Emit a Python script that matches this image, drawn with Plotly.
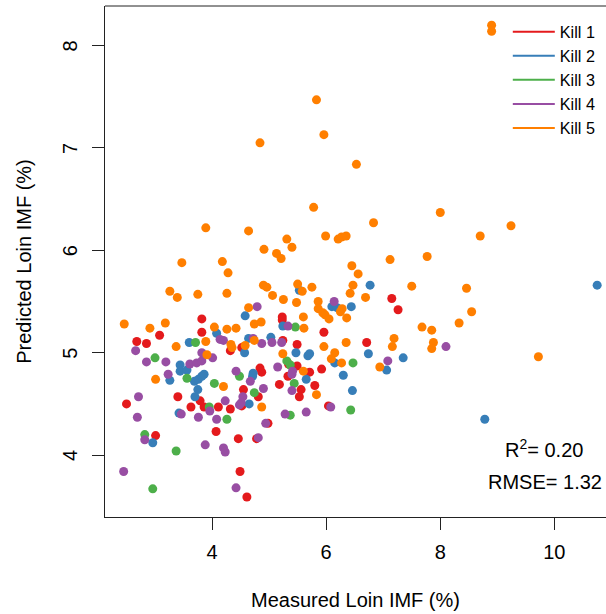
import plotly.graph_objects as go

kills = ["Kill 1", "Kill 2", "Kill 3", "Kill 4", "Kill 5"]
colors = ["#E41A1C", "#377EB8", "#4DAF4A", "#984EA3", "#FF7F00"]

# Kill 1 (red)
k1_x = [7.15, 7.26, 3.82, 5.23, 5.23, 3.82, 5.96, 6.71, 5.92, 5.71, 5.80, 6.04, 5.49, 5.49, 5.56,
        5.53, 3.08, 2.68, 2.85, 4.32, 4.52, 5.34, 4.84, 4.87, 5.18, 5.33, 4.81, 4.55, 4.52, 4.32,
        4.11, 3.86, 3.79, 3.63, 3.40, 4.98, 2.50, 3.01, 4.07, 4.46, 4.78, 4.49, 4.61, 5.24]
k1_y = [5.53, 5.42, 5.33, 5.35, 5.32, 5.20, 5.20, 5.10, 4.84, 4.81, 4.68, 4.48, 5.08, 4.87, 4.64,
        4.57, 5.17, 5.11, 5.09, 5.02, 5.05, 4.89, 4.85, 4.81, 4.69, 4.77, 4.57, 4.64, 4.48, 4.45,
        4.47, 4.47, 4.53, 4.47, 4.57, 4.31, 4.50, 4.19, 4.23, 4.16, 4.16, 3.84, 3.59, 5.12]

# Kill 2 (blue)
k2_x = [6.77, 10.75, 6.10, 6.19, 6.44, 5.53, 4.58, 5.24, 6.74, 5.68, 5.71, 6.15, 7.35, 7.06, 5.65,
        6.30, 6.46, 8.78, 5.47, 3.60, 4.08, 4.57, 4.64, 5.03, 3.44, 3.44, 3.56, 3.26, 3.69, 3.76,
        3.82, 3.86, 3.75, 3.70, 4.72, 4.71, 4.65, 3.42, 2.96]
k2_y = [5.66, 5.66, 5.45, 5.44, 5.45, 5.61, 5.36, 5.26, 4.99, 4.97, 4.99, 4.90, 4.95, 4.83, 4.74,
        4.78, 4.63, 4.35, 5.00, 5.10, 5.19, 5.00, 5.14, 5.15, 4.88, 4.82, 4.83, 4.73, 4.72, 4.74,
        4.77, 4.79, 4.64, 4.57, 4.80, 4.77, 4.50, 4.41, 4.12]

# Kill 3 (green)
k3_x = [5.46, 6.47, 6.43, 5.37, 5.44, 5.37, 3.71, 5.31, 3.00, 3.56, 4.04, 4.48, 4.74, 3.95, 4.26,
        2.82, 3.37, 2.96]
k3_y = [5.25, 4.90, 4.44, 4.88, 4.70, 4.39, 5.10, 4.92, 4.95, 4.75, 4.70, 4.77, 4.61, 4.47, 4.35,
        4.20, 4.04, 3.67]

# Kill 4 (purple)
k4_x = [4.79, 5.33, 6.14, 8.10, 7.08, 6.08, 5.65, 5.41, 5.40, 5.40, 2.66, 4.14, 4.20, 4.72, 4.87,
        5.05, 5.22, 2.85, 3.19, 3.61, 3.73, 3.82, 3.82, 4.01, 3.23, 4.42, 4.67, 5.15, 4.90, 4.54,
        4.51, 4.48, 4.23, 3.96, 3.46, 3.76, 4.08, 4.94, 2.71, 2.69, 2.82, 3.88, 4.20, 4.23, 4.81,
        2.45, 4.42, 5.28]
k4_y = [5.45, 5.26, 5.50, 5.06, 4.92, 4.47, 4.42, 4.82, 4.79, 4.63, 5.02, 5.13, 5.12, 5.14, 5.09,
        5.10, 5.10, 4.91, 4.91, 4.89, 4.90, 4.92, 5.00, 4.95, 4.79, 4.82, 4.72, 4.86, 4.65, 4.57,
        4.51, 4.49, 4.53, 4.43, 4.40, 4.37, 4.35, 4.31, 4.57, 4.37, 4.15, 4.10, 4.07, 4.03, 4.17,
        3.84, 3.68, 4.40]

# Kill 5 (orange)
k5_x = [4.84, 3.89, 4.64, 4.91, 5.31, 5.40, 5.13, 5.21, 3.47, 4.18, 4.28, 4.90, 4.96, 3.26, 3.39,
        3.75, 4.26, 5.06, 5.25, 5.50, 5.48, 5.58, 8.90, 8.90, 5.83, 5.96, 6.53, 5.78, 8.00, 6.83,
        9.24, 5.99, 6.21, 6.27, 6.35, 8.70, 7.12, 7.77, 6.45, 6.56, 5.75, 6.47, 7.50, 6.42, 6.69,
        8.46, 5.86, 5.86, 5.94, 5.98, 6.05, 6.28, 6.25, 6.36, 5.60, 8.55, 8.33, 7.68, 7.85, 5.61,
        6.35, 5.96, 7.19, 7.16, 7.88, 7.85, 6.15, 6.09, 6.27, 9.72, 6.94, 5.60, 5.83, 4.64, 2.46,
        3.18, 2.91, 4.04, 4.26, 4.42, 4.74, 4.86, 3.37, 3.89, 4.33, 4.35, 4.58, 4.74, 5.24, 3.91,
        3.01, 4.20, 4.87]
k5_y = [7.05, 6.22, 6.19, 6.01, 6.11, 6.03, 5.97, 5.92, 5.88, 5.89, 5.78, 5.66, 5.64, 5.60, 5.54,
        5.57, 5.58, 5.56, 5.52, 5.67, 5.49, 5.60, 8.20, 8.14, 7.47, 7.13, 6.84, 6.42, 6.37, 6.27,
        6.24, 6.14, 6.11, 6.13, 6.14, 6.14, 5.91, 5.94, 5.85, 5.77, 5.64, 5.66, 5.65, 5.58, 5.54,
        5.63, 5.50, 5.43, 5.39, 5.37, 5.33, 5.43, 5.40, 5.34, 5.35, 5.40, 5.29, 5.25, 5.22, 5.24,
        5.10, 5.06, 5.14, 5.06, 5.10, 5.04, 5.00, 4.94, 4.90, 4.96, 4.86, 4.82, 4.59, 5.44, 5.28,
        5.29, 5.24, 5.25, 5.23, 5.24, 5.28, 5.30, 5.06, 5.11, 5.08, 5.05, 5.07, 5.12, 4.99, 4.98,
        4.74, 4.67, 4.47]

xs = [k1_x, k2_x, k3_x, k4_x, k5_x]
ys = [k1_y, k2_y, k3_y, k4_y, k5_y]

x_ticks = [4, 6, 8, 10]
y_ticks = [4, 5, 6, 7, 8]
stats_text = ["R<sup>2</sup>= 0.20", "RMSE= 1.32"]

FONT = "Liberation Sans, Arial, sans-serif"

fig = go.Figure()
for name, col, x, y in zip(kills, colors, xs, ys):
    fig.add_trace(go.Scatter(x=x, y=y, mode="markers", name=name, legendgroup=name,
                             showlegend=False,
                             marker=dict(color=col, size=9, line=dict(width=0))))
for name, col in zip(kills, colors):
    fig.add_trace(go.Scatter(x=[None], y=[None], mode="lines", name=name, legendgroup=name,
                             showlegend=True, line=dict(color=col, width=2)))

axis_common = dict(showgrid=False, zeroline=False, showline=True, linecolor="#222",
                   linewidth=1, ticks="outside", ticklen=12, tickcolor="#222", tickwidth=1,
                   tickfont=dict(size=20, color="black", family=FONT))

fig.update_xaxes(range=[2.123, 10.905], tickvals=x_ticks, ticktext=[str(v) for v in x_ticks],
                 ticklabelstandoff=5,
                 title=dict(text="Measured Loin IMF (%)", font=dict(size=20, color="black", family=FONT),
                            standoff=30),
                 **axis_common)
fig.update_yaxes(range=[3.395, 8.387], tickvals=y_ticks, showticklabels=False,
                 title=dict(text="Predicted Loin IMF (%)", font=dict(size=20, color="black", family=FONT),
                            standoff=55),
                 **axis_common)

# y tick labels, parallel to the axis as in the original
for v in y_ticks:
    fig.add_annotation(x=-0.07, xref="paper", y=v, yref="y", text=str(v), textangle=-90,
                       showarrow=False, xanchor="center", yanchor="middle",
                       font=dict(size=20, color="black", family=FONT))

fig.add_shape(type="line", xref="paper", yref="paper", x0=0, x1=1, y0=1, y1=1,
              line=dict(color="#222", width=1))

fig.add_annotation(x=9.82, y=4.06, xref="x", yref="y", text=stats_text[0], showarrow=False,
                   font=dict(size=20, color="black", family=FONT))
fig.add_annotation(x=9.83, y=3.74, xref="x", yref="y", text=stats_text[1], showarrow=False,
                   font=dict(size=20, color="black", family=FONT))

fig.update_layout(
    width=606, height=614,
    margin=dict(l=105, r=0, t=6, b=97, autoexpand=False),
    paper_bgcolor="white", plot_bgcolor="white",
    font=dict(family=FONT, color="black"),
    legend=dict(x=0.804, y=0.983, xanchor="left", yanchor="top", bgcolor="rgba(0,0,0,0)",
                font=dict(size=16.2, color="black", family=FONT), itemwidth=42,
                tracegroupgap=0),
)

fig.write_html("out.html", config={"displayModeBar": False},
               post_script="document.body.style.margin='0';document.body.style.padding='0';")
